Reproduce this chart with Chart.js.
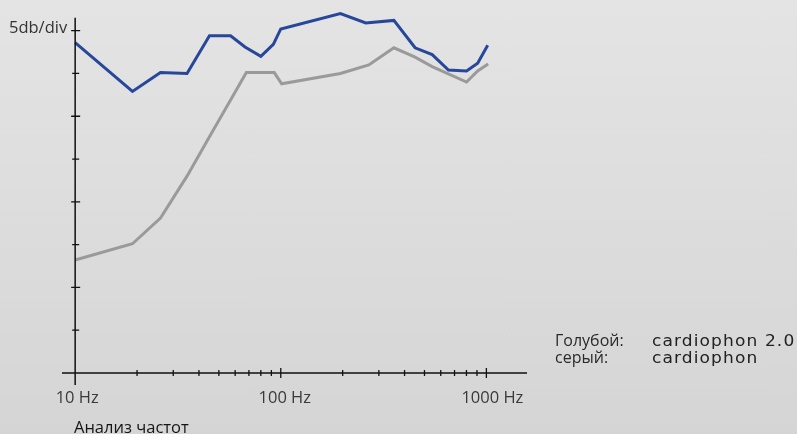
<!DOCTYPE html>
<html>
<head>
<meta charset="utf-8">
<script src="https://cdn.jsdelivr.net/npm/chart.js@4"></script>
<style>
    html, body { margin: 0; padding: 0; }
    body {
        width: 797px; height: 434px; overflow: hidden; position: relative;
        background: linear-gradient(#e4e4e4, #d5d5d5);
        font-family: "Open Sans", sans-serif;
    }
    #freqChart { position: absolute; left: 0; top: 0; }
    .legend-row { position: absolute; left: 555px; font-size: 16px; line-height: 17px; color: #2a2a2a; white-space: nowrap; }
    .legend-row .key { display: inline-block; width: 97px; }
    .legend-row .name {
        display: inline-block; transform: scaleX(1.1); transform-origin: left center;
        font-family: "DejaVu Sans", sans-serif; font-size: 15.5px; letter-spacing: 1px; color: #222;
    }
    #caption { position: absolute; left: 74px; top: 419px; font-size: 16.5px; line-height: 16px; color: #151515; }
</style>
</head>
<body>
<canvas id="freqChart" width="797" height="434"></canvas>
<div class="legend-row" style="top:332px"><span class="key">Голубой:</span><span class="name">cardiophon 2.0</span></div>
<div class="legend-row" style="top:348.5px"><span class="key">серый:</span><span class="name">cardiophon</span></div>
<div id="caption">Анализ частот</div>

<script>
// cardiophon 2.0 (blue)
const freqBlue = [10, 19, 26, 35, 45, 57, 67, 80, 92, 100, 195, 259, 355, 450, 545, 654, 801, 907, 1015];
const dbBlue   = [38.6, 32.9, 35.1, 35.0, 39.4, 39.4, 38.1, 37.0, 38.4, 40.2, 42.0, 40.9, 41.2, 38.0, 37.2, 35.4, 35.3, 36.2, 38.3];

// cardiophon (grey)
const freqGrey = [10, 19, 26, 35, 45, 57, 68, 93, 101, 195, 268, 355, 450, 545, 801, 907, 1020];
const dbGrey   = [13.2, 15.1, 18.1, 23.0, 27.6, 31.9, 35.1, 35.1, 33.8, 35.0, 36.0, 38.0, 36.9, 35.8, 34.0, 35.3, 36.1];

const majorTicks = [10, 100, 1000];
const tickLabels = ['10 Hz', '100 Hz', '1000 Hz'];
const minorTicks = [20, 30, 40, 50, 60, 70, 80, 90, 200, 300, 400, 500, 600, 700, 800, 900];
const dbTicks = [5, 10, 15, 20, 25, 30, 35, 40];
const dbLabel = '5db/div';
const yAxisTop = 41.5;

function toPoints(xs, ys) {
    return xs.map((x, i) => ({ x: x, y: ys[i] }));
}

// axes drawn by hand: crossing tick marks, x line running past the y axis
const axesPlugin = {
    id: 'axes',
    afterDraw(chart) {
        const ctx = chart.ctx;
        const xs = chart.scales.x, ys = chart.scales.y;
        const area = chart.chartArea;
        const x0 = xs.getPixelForValue(10);
        const y0 = ys.getPixelForValue(0);

        ctx.save();
        ctx.strokeStyle = '#111';
        ctx.lineWidth = 1.5;
        ctx.beginPath();
        ctx.moveTo(area.left, y0); ctx.lineTo(area.right, y0);
        ctx.moveTo(x0, ys.getPixelForValue(yAxisTop)); ctx.lineTo(x0, y0 + 12);
        ctx.stroke();

        ctx.lineWidth = 1.3;
        ctx.beginPath();
        dbTicks.forEach(v => {
            const y = ys.getPixelForValue(v);
            const long = v % 10 === 0;
            ctx.moveTo(x0 - (long ? 4 : 3), y); ctx.lineTo(x0 + (long ? 5 : 4), y);
        });
        minorTicks.forEach(f => {
            const x = xs.getPixelForValue(f);
            ctx.moveTo(x, y0 - 3); ctx.lineTo(x, y0 + 3);
        });
        majorTicks.slice(1).forEach(f => {
            const x = xs.getPixelForValue(f);
            ctx.moveTo(x, y0 - 5); ctx.lineTo(x, y0 + 5);
        });
        ctx.stroke();

        ctx.fillStyle = '#3a3a3a';
        ctx.font = '16.5px "Open Sans"';
        ctx.textAlign = 'center';
        ctx.textBaseline = 'alphabetic';
        majorTicks.forEach((f, i) => {
            ctx.fillText(tickLabels[i], xs.getPixelForValue(f) + 2 + i * 2, y0 + 30);
        });

        ctx.fillStyle = '#333';
        ctx.textAlign = 'right';
        ctx.fillText(dbLabel, x0 - 8, ys.getPixelForValue(dbTicks[dbTicks.length - 1]) + 2);
        ctx.restore();
    }
};

new Chart(document.getElementById('freqChart').getContext('2d'), {
    type: 'line',
    data: {
        datasets: [
            {
                label: 'cardiophon',
                data: toPoints(freqGrey, dbGrey),
                borderColor: '#9a9a9a',
                borderWidth: 3, pointRadius: 0, tension: 0, borderJoinStyle: 'miter'
            },
            {
                label: 'cardiophon 2.0',
                data: toPoints(freqBlue, dbBlue),
                borderColor: '#27479a',
                borderWidth: 3, pointRadius: 0, tension: 0, borderJoinStyle: 'miter'
            }
        ]
    },
    options: {
        responsive: false,
        animation: false,
        layout: { padding: { left: 62, right: 270, top: 5, bottom: 61 } },
        plugins: { legend: { display: false }, tooltip: { enabled: false } },
        scales: {
            x: { type: 'logarithmic', min: 8.63, max: 1576, display: false },
            y: { type: 'linear', min: 0, max: 43, display: false }
        }
    },
    plugins: [axesPlugin]
});
</script>
</body>
</html>
